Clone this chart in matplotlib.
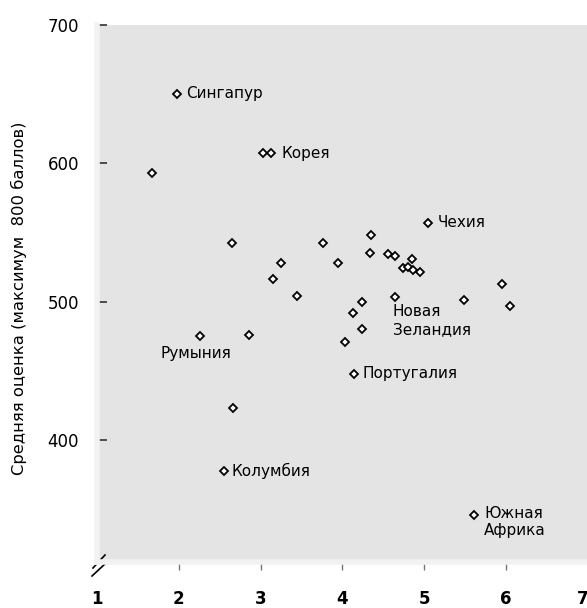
import matplotlib.pyplot as plt

plt.rcParams['font.family'] = ['DejaVu Sans']

# x position and mean score of each country
xs = [1.98, 3.03, 3.13, 1.67, 2.65, 3.25, 3.15, 3.44, 5.05, 3.76, 4.35, 4.34,
      3.95, 4.55, 4.64, 4.85, 4.74, 4.80, 4.86, 4.95, 5.95, 6.05, 5.49, 4.64,
      4.24, 4.13, 4.24, 4.03, 4.14, 2.26, 2.86, 2.66, 2.55, 5.61]
scores = [650, 607, 607, 593, 542, 528, 516, 504, 557, 542, 548, 535,
          528, 534, 533, 531, 524, 525, 523, 521, 513, 497, 501, 503,
          500, 492, 480, 471, 448, 475, 476, 423, 378, 346]

# labelled countries: name, x, score, text offset (px), ha, va
labels = [
    ("Сингапур", 1.98, 650, (9, 0), "left", "center"),
    ("Корея", 3.13, 607, (10, 0), "left", "center"),
    ("Чехия", 5.05, 557, (9, 0), "left", "center"),
    ("Новая\nЗеландия", 4.64, 503, (-2, -7), "left", "top"),
    ("Португалия", 4.14, 448, (9, 0), "left", "center"),
    ("Румыния", 2.26, 475, (-4, -10), "center", "top"),
    ("Колумбия", 2.55, 378, (8, 0), "left", "center"),
    ("Южная\nАфрика", 5.61, 346, (10, 9), "left", "top"),
]

W, H = 587, 608
fig = plt.figure(figsize=(W / 100, H / 100), dpi=100)
left, right, top, bottom = 97, 588, 24.5, 562
ax = fig.add_axes([left / W, 1 - bottom / H, (right - left) / W, (bottom - top) / H])
ax.set_facecolor("#e4e4e4")

ax.plot(xs, scores, linestyle="none", marker="D", markersize=4,
        markerfacecolor="white", markeredgecolor="black", markeredgewidth=1.3)

for name, x, y, off, ha, va in labels:
    ax.annotate(name, (x, y), xytext=off, textcoords="offset pixels",
                ha=ha, va=va, fontsize=11, linespacing=1.2)

ax.set_xlim(1, 7)
ax.set_ylim(312, 700)
ax.set_xticks([1, 2, 3, 4, 5, 6, 7])
ax.set_yticks([400, 500, 600, 700])
ax.tick_params(axis="y", direction="in", length=7, width=1.2, color="#333333",
               pad=13, labelsize=12)
ax.tick_params(axis="x", direction="out", length=6, width=1, color="#777777",
               pad=14, labelsize=12)
for lab in ax.get_xticklabels():
    lab.set_fontweight("bold")
ax.get_xticklabels()[-1].set_horizontalalignment("right")
# no tick marks under 1 and 7
xt = ax.xaxis.get_major_ticks()
xt[0].tick1line.set_visible(False)
xt[-1].tick1line.set_visible(False)

for side in ["top", "right"]:
    ax.spines[side].set_visible(False)
ax.spines["left"].set_color("#f2f2f2")
ax.spines["left"].set_linewidth(4)
ax.spines["bottom"].set_color("#f2f2f2")
ax.spines["bottom"].set_linewidth(4)

ax.set_ylabel("Средняя оценка (максимум  800 баллов)", fontsize=11.8)
ax.yaxis.set_label_coords(-0.143, 0.49)

# axis break mark
def px(x, y):
    return ((x - left) / (right - left), (bottom - y) / (bottom - top))

for (x0, y0), (x1, y1) in [((92, 576), (106, 563)), ((93, 568), (105, 555))]:
    a, b = px(x0, y0), px(x1, y1)
    ax.plot([a[0], b[0]], [a[1], b[1]], transform=ax.transAxes, color="black",
            lw=1.2, clip_on=False)

fig.savefig("out.png", dpi=100)
